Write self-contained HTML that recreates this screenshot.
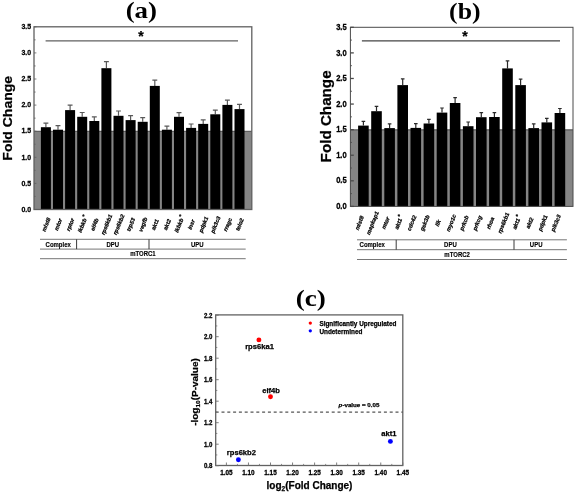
<!DOCTYPE html>
<html><head><meta charset="utf-8"><title>Figure</title>
<style>
html,body{margin:0;padding:0;background:#fff;}
svg{display:block;}
text{font-family:"Liberation Sans",sans-serif;font-weight:bold;fill:#000;stroke:#000;stroke-width:0.25px;}
.ttl{font-family:"Liberation Serif",serif;font-weight:bold;font-size:23px;stroke:none;}
.tk{font-size:7px;}
.tkc{font-size:6.1px;}
.gl{font-size:6.3px;font-style:italic;}
.tb{font-size:6px;stroke-width:0.12px;}
.pt{font-size:7.6px;}
.lg{font-size:6.4px;}
</style></head><body>
<svg width="575" height="493" viewBox="0 0 575 493">
<rect width="575" height="493" fill="#fff"/>
<rect x="34" y="131" width="217.8" height="78.5" fill="#858585"/>
<line x1="34" y1="131.3" x2="251.8" y2="131.3" stroke="#606060" stroke-width="1.3"/>
<path d="M45.9 127.2V123.1M43.45 123.1H48.35" stroke="#5a5a5a" stroke-width="1.2" fill="none"/>
<rect x="40.9" y="127.2" width="10" height="82.3" fill="#000"/>
<path d="M58 129.7V125.7M55.55 125.7H60.45" stroke="#5a5a5a" stroke-width="1.2" fill="none"/>
<rect x="53" y="129.7" width="10" height="79.8" fill="#000"/>
<path d="M70.1 110.1V105.2M67.65 105.2H72.55" stroke="#5a5a5a" stroke-width="1.2" fill="none"/>
<rect x="65.1" y="110.1" width="10" height="99.4" fill="#000"/>
<path d="M82.2 116.8V112.5M79.75 112.5H84.65" stroke="#5a5a5a" stroke-width="1.2" fill="none"/>
<rect x="77.2" y="116.8" width="10" height="92.7" fill="#000"/>
<path d="M94.3 121V116.9M91.85 116.9H96.75" stroke="#5a5a5a" stroke-width="1.2" fill="none"/>
<rect x="89.3" y="121" width="10" height="88.5" fill="#000"/>
<path d="M106.4 68.2V61.6M103.95 61.6H108.85" stroke="#5a5a5a" stroke-width="1.2" fill="none"/>
<rect x="101.4" y="68.2" width="10" height="141.3" fill="#000"/>
<path d="M118.5 115.8V111M116.05 111H120.95" stroke="#5a5a5a" stroke-width="1.2" fill="none"/>
<rect x="113.5" y="115.8" width="10" height="93.7" fill="#000"/>
<path d="M130.6 120.1V115.6M128.15 115.6H133.05" stroke="#5a5a5a" stroke-width="1.2" fill="none"/>
<rect x="125.6" y="120.1" width="10" height="89.4" fill="#000"/>
<path d="M142.7 121.8V117.7M140.25 117.7H145.15" stroke="#5a5a5a" stroke-width="1.2" fill="none"/>
<rect x="137.7" y="121.8" width="10" height="87.7" fill="#000"/>
<path d="M154.8 85.9V80.1M152.35 80.1H157.25" stroke="#5a5a5a" stroke-width="1.2" fill="none"/>
<rect x="149.8" y="85.9" width="10" height="123.6" fill="#000"/>
<path d="M166.9 129.7V126.1M164.45 126.1H169.35" stroke="#5a5a5a" stroke-width="1.2" fill="none"/>
<rect x="161.9" y="129.7" width="10" height="79.8" fill="#000"/>
<path d="M179 116.8V112.7M176.55 112.7H181.45" stroke="#5a5a5a" stroke-width="1.2" fill="none"/>
<rect x="174" y="116.8" width="10" height="92.7" fill="#000"/>
<path d="M191.1 127.9V124M188.65 124H193.55" stroke="#5a5a5a" stroke-width="1.2" fill="none"/>
<rect x="186.1" y="127.9" width="10" height="81.6" fill="#000"/>
<path d="M203.2 123.9V119.8M200.75 119.8H205.65" stroke="#5a5a5a" stroke-width="1.2" fill="none"/>
<rect x="198.2" y="123.9" width="10" height="85.6" fill="#000"/>
<path d="M215.3 114.3V110.2M212.85 110.2H217.75" stroke="#5a5a5a" stroke-width="1.2" fill="none"/>
<rect x="210.3" y="114.3" width="10" height="95.2" fill="#000"/>
<path d="M227.4 104.9V100.2M224.95 100.2H229.85" stroke="#5a5a5a" stroke-width="1.2" fill="none"/>
<rect x="222.4" y="104.9" width="10" height="104.6" fill="#000"/>
<path d="M239.5 109.1V104.4M237.05 104.4H241.95" stroke="#5a5a5a" stroke-width="1.2" fill="none"/>
<rect x="234.5" y="109.1" width="10" height="100.4" fill="#000"/>
<rect x="34" y="26.8" width="217.8" height="182.7" fill="none" stroke="#606060" stroke-width="1.3"/>
<line x1="34" y1="209.5" x2="36.4" y2="209.5" stroke="#606060" stroke-width="0.8"/>
<text transform="translate(31.2 211.76) scale(1 1.06)" font-size="7.0" text-anchor="end">0.0</text>
<line x1="34" y1="196.45" x2="35.6" y2="196.45" stroke="#606060" stroke-width="0.8"/>
<line x1="34" y1="183.4" x2="36.4" y2="183.4" stroke="#606060" stroke-width="0.8"/>
<text transform="translate(31.2 185.66) scale(1 1.06)" font-size="7.0" text-anchor="end">0.5</text>
<line x1="34" y1="170.35" x2="35.6" y2="170.35" stroke="#606060" stroke-width="0.8"/>
<line x1="34" y1="157.3" x2="36.4" y2="157.3" stroke="#606060" stroke-width="0.8"/>
<text transform="translate(31.2 159.56) scale(1 1.06)" font-size="7.0" text-anchor="end">1.0</text>
<line x1="34" y1="144.25" x2="35.6" y2="144.25" stroke="#606060" stroke-width="0.8"/>
<line x1="34" y1="131.2" x2="36.4" y2="131.2" stroke="#606060" stroke-width="0.8"/>
<text transform="translate(31.2 133.46) scale(1 1.06)" font-size="7.0" text-anchor="end">1.5</text>
<line x1="34" y1="118.15" x2="35.6" y2="118.15" stroke="#606060" stroke-width="0.8"/>
<line x1="34" y1="105.1" x2="36.4" y2="105.1" stroke="#606060" stroke-width="0.8"/>
<text transform="translate(31.2 107.36) scale(1 1.06)" font-size="7.0" text-anchor="end">2.0</text>
<line x1="34" y1="92.05" x2="35.6" y2="92.05" stroke="#606060" stroke-width="0.8"/>
<line x1="34" y1="79" x2="36.4" y2="79" stroke="#606060" stroke-width="0.8"/>
<text transform="translate(31.2 81.26) scale(1 1.06)" font-size="7.0" text-anchor="end">2.5</text>
<line x1="34" y1="65.95" x2="35.6" y2="65.95" stroke="#606060" stroke-width="0.8"/>
<line x1="34" y1="52.9" x2="36.4" y2="52.9" stroke="#606060" stroke-width="0.8"/>
<text transform="translate(31.2 55.16) scale(1 1.06)" font-size="7.0" text-anchor="end">3.0</text>
<line x1="34" y1="39.85" x2="35.6" y2="39.85" stroke="#606060" stroke-width="0.8"/>
<line x1="34" y1="26.8" x2="36.4" y2="26.8" stroke="#606060" stroke-width="0.8"/>
<text transform="translate(31.2 29.06) scale(1 1.06)" font-size="7.0" text-anchor="end">3.5</text>
<text font-size="14.0" text-anchor="middle" transform="translate(12 118.3) rotate(-90) scale(1 0.94)">Fold Change</text>
<text class="ttl" transform="translate(141.3 18) scale(1.17 1)" text-anchor="middle">(a)</text>
<line x1="45.6" y1="40.9" x2="238" y2="40.9" stroke="#606060" stroke-width="1.3"/>
<text x="140.9" y="41.2" font-size="14" text-anchor="middle">*</text>
<g transform="rotate(-68 46.2 224.6)" font-size="5.6" font-style="italic" stroke="#000" stroke-width="0.3"><text x="46.2" y="226.5" text-anchor="middle">mlst8</text></g>
<g transform="rotate(-68 58.3 224.6)" font-size="5.6" font-style="italic" stroke="#000" stroke-width="0.3"><text x="58.3" y="226.5" text-anchor="middle">mtor</text></g>
<g transform="rotate(-68 70.4 224.6)" font-size="5.6" font-style="italic" stroke="#000" stroke-width="0.3"><text x="70.4" y="226.5" text-anchor="middle">rptor</text></g>
<g transform="rotate(-68 82.5 224.6)" font-size="5.6" font-style="italic" stroke="#000" stroke-width="0.3"><text x="81.6" y="226.5" text-anchor="middle">ikbkb</text><text x="89.91" y="224.8">*</text></g>
<g transform="rotate(-68 94.6 224.6)" font-size="5.6" font-style="italic" stroke="#000" stroke-width="0.3"><text x="94.6" y="226.5" text-anchor="middle">eif4b</text></g>
<g transform="rotate(-68 106.7 224.6)" font-size="5.6" font-style="italic" stroke="#000" stroke-width="0.3"><text x="106.7" y="226.5" text-anchor="middle">rps6kb1</text></g>
<g transform="rotate(-68 118.8 224.6)" font-size="5.6" font-style="italic" stroke="#000" stroke-width="0.3"><text x="118.8" y="226.5" text-anchor="middle">rps6kb2</text></g>
<g transform="rotate(-68 130.9 224.6)" font-size="5.6" font-style="italic" stroke="#000" stroke-width="0.3"><text x="130.9" y="226.5" text-anchor="middle">trp53</text></g>
<g transform="rotate(-68 143 224.6)" font-size="5.6" font-style="italic" stroke="#000" stroke-width="0.3"><text x="143" y="226.5" text-anchor="middle">vegfb</text></g>
<g transform="rotate(-68 155.1 224.6)" font-size="5.6" font-style="italic" stroke="#000" stroke-width="0.3"><text x="155.1" y="226.5" text-anchor="middle">akt1</text></g>
<g transform="rotate(-68 167.2 224.6)" font-size="5.6" font-style="italic" stroke="#000" stroke-width="0.3"><text x="167.2" y="226.5" text-anchor="middle">akt2</text></g>
<g transform="rotate(-68 179.3 224.6)" font-size="5.6" font-style="italic" stroke="#000" stroke-width="0.3"><text x="178.4" y="226.5" text-anchor="middle">ikbkb</text><text x="186.71" y="224.8">*</text></g>
<g transform="rotate(-68 191.4 224.6)" font-size="5.6" font-style="italic" stroke="#000" stroke-width="0.3"><text x="191.4" y="226.5" text-anchor="middle">insr</text></g>
<g transform="rotate(-68 203.5 224.6)" font-size="5.6" font-style="italic" stroke="#000" stroke-width="0.3"><text x="203.5" y="226.5" text-anchor="middle">pdpk1</text></g>
<g transform="rotate(-68 215.6 224.6)" font-size="5.6" font-style="italic" stroke="#000" stroke-width="0.3"><text x="215.6" y="226.5" text-anchor="middle">pik3c3</text></g>
<g transform="rotate(-68 227.7 224.6)" font-size="5.6" font-style="italic" stroke="#000" stroke-width="0.3"><text x="227.7" y="226.5" text-anchor="middle">rragc</text></g>
<g transform="rotate(-68 239.8 224.6)" font-size="5.6" font-style="italic" stroke="#000" stroke-width="0.3"><text x="239.8" y="226.5" text-anchor="middle">telo2</text></g>
<line x1="40" y1="239.3" x2="245.7" y2="239.3" stroke="#666" stroke-width="0.9"/>
<line x1="40" y1="249.1" x2="245.7" y2="249.1" stroke="#666" stroke-width="0.9"/>
<line x1="40" y1="258.7" x2="245.7" y2="258.7" stroke="#666" stroke-width="0.9"/>
<line x1="76.6" y1="239.3" x2="76.6" y2="249.1" stroke="#3a3a3a" stroke-width="1"/>
<line x1="149" y1="239.3" x2="149" y2="249.1" stroke="#3a3a3a" stroke-width="1"/>
<text class="tb" transform="translate(58.2 246.5) scale(1 1.12)" text-anchor="middle">Complex</text>
<text class="tb" transform="translate(112.8 246.5) scale(1 1.12)" text-anchor="middle">DPU</text>
<text class="tb" transform="translate(197.3 246.5) scale(1 1.12)" text-anchor="middle">UPU</text>
<text class="tb" transform="translate(142.9 256.2) scale(1 1.12)" text-anchor="middle">mTORC1</text>
<rect x="350.4" y="129.6" width="222.6" height="76.8" fill="#858585"/>
<line x1="350.4" y1="129.9" x2="573" y2="129.9" stroke="#4a4a4a" stroke-width="1.0"/>
<path d="M363.4 125.6V121.4M361.6 121.4H365.2" stroke="#2a2a2a" stroke-width="1.2" fill="none"/>
<rect x="358.1" y="125.6" width="10.6" height="80.8" fill="#000"/>
<path d="M376.5 111.2V106.4M374.7 106.4H378.3" stroke="#2a2a2a" stroke-width="1.2" fill="none"/>
<rect x="371.2" y="111.2" width="10.6" height="95.2" fill="#000"/>
<path d="M389.6 128.1V123.9M387.8 123.9H391.4" stroke="#2a2a2a" stroke-width="1.2" fill="none"/>
<rect x="384.3" y="128.1" width="10.6" height="78.3" fill="#000"/>
<path d="M402.7 85.1V78.8M400.9 78.8H404.5" stroke="#2a2a2a" stroke-width="1.2" fill="none"/>
<rect x="397.4" y="85.1" width="10.6" height="121.3" fill="#000"/>
<path d="M415.8 127.9V123.7M414 123.7H417.6" stroke="#2a2a2a" stroke-width="1.2" fill="none"/>
<rect x="410.5" y="127.9" width="10.6" height="78.5" fill="#000"/>
<path d="M428.9 123.5V119.3M427.1 119.3H430.7" stroke="#2a2a2a" stroke-width="1.2" fill="none"/>
<rect x="423.6" y="123.5" width="10.6" height="82.9" fill="#000"/>
<path d="M442 112.6V108M440.2 108H443.8" stroke="#2a2a2a" stroke-width="1.2" fill="none"/>
<rect x="436.7" y="112.6" width="10.6" height="93.8" fill="#000"/>
<path d="M455.1 103V97.6M453.3 97.6H456.9" stroke="#2a2a2a" stroke-width="1.2" fill="none"/>
<rect x="449.8" y="103" width="10.6" height="103.4" fill="#000"/>
<path d="M468.2 126.2V122M466.4 122H470" stroke="#2a2a2a" stroke-width="1.2" fill="none"/>
<rect x="462.9" y="126.2" width="10.6" height="80.2" fill="#000"/>
<path d="M481.3 117.2V112.6M479.5 112.6H483.1" stroke="#2a2a2a" stroke-width="1.2" fill="none"/>
<rect x="476" y="117.2" width="10.6" height="89.2" fill="#000"/>
<path d="M494.4 117V112.6M492.6 112.6H496.2" stroke="#2a2a2a" stroke-width="1.2" fill="none"/>
<rect x="489.1" y="117" width="10.6" height="89.4" fill="#000"/>
<path d="M507.5 68.4V60.9M505.7 60.9H509.3" stroke="#2a2a2a" stroke-width="1.2" fill="none"/>
<rect x="502.2" y="68.4" width="10.6" height="138" fill="#000"/>
<path d="M520.6 85.1V79.2M518.8 79.2H522.4" stroke="#2a2a2a" stroke-width="1.2" fill="none"/>
<rect x="515.3" y="85.1" width="10.6" height="121.3" fill="#000"/>
<path d="M533.7 128.1V123.9M531.9 123.9H535.5" stroke="#2a2a2a" stroke-width="1.2" fill="none"/>
<rect x="528.4" y="128.1" width="10.6" height="78.3" fill="#000"/>
<path d="M546.8 122.4V118.3M545 118.3H548.6" stroke="#2a2a2a" stroke-width="1.2" fill="none"/>
<rect x="541.5" y="122.4" width="10.6" height="84" fill="#000"/>
<path d="M559.9 113V108.5M558.1 108.5H561.7" stroke="#2a2a2a" stroke-width="1.2" fill="none"/>
<rect x="554.6" y="113" width="10.6" height="93.4" fill="#000"/>
<rect x="350.4" y="27.3" width="222.6" height="179.1" fill="none" stroke="#4a4a4a" stroke-width="1.0"/>
<line x1="350.4" y1="206.4" x2="353.8" y2="206.4" stroke="#4a4a4a" stroke-width="1.3"/>
<text transform="translate(346.7 209.06) scale(1 1.18)" font-size="7.6" text-anchor="end">0.0</text>
<line x1="350.4" y1="193.61" x2="352" y2="193.61" stroke="#4a4a4a" stroke-width="0.8"/>
<line x1="350.4" y1="180.81" x2="353.8" y2="180.81" stroke="#4a4a4a" stroke-width="1.3"/>
<text transform="translate(346.7 183.47) scale(1 1.18)" font-size="7.6" text-anchor="end">0.5</text>
<line x1="350.4" y1="168.02" x2="352" y2="168.02" stroke="#4a4a4a" stroke-width="0.8"/>
<line x1="350.4" y1="155.23" x2="353.8" y2="155.23" stroke="#4a4a4a" stroke-width="1.3"/>
<text transform="translate(346.7 157.89) scale(1 1.18)" font-size="7.6" text-anchor="end">1.0</text>
<line x1="350.4" y1="142.44" x2="352" y2="142.44" stroke="#4a4a4a" stroke-width="0.8"/>
<line x1="350.4" y1="129.64" x2="353.8" y2="129.64" stroke="#4a4a4a" stroke-width="1.3"/>
<text transform="translate(346.7 132.3) scale(1 1.18)" font-size="7.6" text-anchor="end">1.5</text>
<line x1="350.4" y1="116.85" x2="352" y2="116.85" stroke="#4a4a4a" stroke-width="0.8"/>
<line x1="350.4" y1="104.06" x2="353.8" y2="104.06" stroke="#4a4a4a" stroke-width="1.3"/>
<text transform="translate(346.7 106.72) scale(1 1.18)" font-size="7.6" text-anchor="end">2.0</text>
<line x1="350.4" y1="91.26" x2="352" y2="91.26" stroke="#4a4a4a" stroke-width="0.8"/>
<line x1="350.4" y1="78.47" x2="353.8" y2="78.47" stroke="#4a4a4a" stroke-width="1.3"/>
<text transform="translate(346.7 81.13) scale(1 1.18)" font-size="7.6" text-anchor="end">2.5</text>
<line x1="350.4" y1="65.68" x2="352" y2="65.68" stroke="#4a4a4a" stroke-width="0.8"/>
<line x1="350.4" y1="52.89" x2="353.8" y2="52.89" stroke="#4a4a4a" stroke-width="1.3"/>
<text transform="translate(346.7 55.55) scale(1 1.18)" font-size="7.6" text-anchor="end">3.0</text>
<line x1="350.4" y1="40.09" x2="352" y2="40.09" stroke="#4a4a4a" stroke-width="0.8"/>
<line x1="350.4" y1="27.3" x2="353.8" y2="27.3" stroke="#4a4a4a" stroke-width="1.3"/>
<text transform="translate(346.7 29.96) scale(1 1.18)" font-size="7.6" text-anchor="end">3.5</text>
<text font-size="15.2" text-anchor="middle" transform="translate(331.2 116.4) rotate(-90) scale(1 1)">Fold Change</text>
<text class="ttl" transform="translate(464.8 18.5) scale(1.12 1)" text-anchor="middle">(b)</text>
<line x1="361.9" y1="40.8" x2="560" y2="40.8" stroke="#444" stroke-width="1.2"/>
<text x="464.9" y="41.2" font-size="14" text-anchor="middle">*</text>
<g transform="rotate(-68 359.4 223)" font-size="5.7" font-style="italic" stroke="#000" stroke-width="0.3"><text x="359.4" y="224.94" text-anchor="middle">mlst8</text></g>
<g transform="rotate(-68 372.5 223)" font-size="5.7" font-style="italic" stroke="#000" stroke-width="0.3"><text x="372.5" y="224.94" text-anchor="middle">mapkap1</text></g>
<g transform="rotate(-68 385.6 223)" font-size="5.7" font-style="italic" stroke="#000" stroke-width="0.3"><text x="385.6" y="224.94" text-anchor="middle">mtor</text></g>
<g transform="rotate(-68 398.7 223)" font-size="5.7" font-style="italic" stroke="#000" stroke-width="0.3"><text x="397.8" y="224.94" text-anchor="middle">akt1</text><text x="404.5" y="223.24">*</text></g>
<g transform="rotate(-68 411.8 223)" font-size="5.7" font-style="italic" stroke="#000" stroke-width="0.3"><text x="411.8" y="224.94" text-anchor="middle">cdc42</text></g>
<g transform="rotate(-68 424.9 223)" font-size="5.7" font-style="italic" stroke="#000" stroke-width="0.3"><text x="424.9" y="224.94" text-anchor="middle">gsk3b</text></g>
<g transform="rotate(-68 438 223)" font-size="5.7" font-style="italic" stroke="#000" stroke-width="0.3"><text x="438" y="224.94" text-anchor="middle">ilk</text></g>
<g transform="rotate(-68 451.1 223)" font-size="5.7" font-style="italic" stroke="#000" stroke-width="0.3"><text x="451.1" y="224.94" text-anchor="middle">myo1c</text></g>
<g transform="rotate(-68 464.2 223)" font-size="5.7" font-style="italic" stroke="#000" stroke-width="0.3"><text x="464.2" y="224.94" text-anchor="middle">prkcb</text></g>
<g transform="rotate(-68 477.3 223)" font-size="5.7" font-style="italic" stroke="#000" stroke-width="0.3"><text x="477.3" y="224.94" text-anchor="middle">prkcg</text></g>
<g transform="rotate(-68 490.4 223)" font-size="5.7" font-style="italic" stroke="#000" stroke-width="0.3"><text x="490.4" y="224.94" text-anchor="middle">rhoa</text></g>
<g transform="rotate(-68 503.5 223)" font-size="5.7" font-style="italic" stroke="#000" stroke-width="0.3"><text x="503.5" y="224.94" text-anchor="middle">rps6kb1</text></g>
<g transform="rotate(-68 516.6 223)" font-size="5.7" font-style="italic" stroke="#000" stroke-width="0.3"><text x="515.7" y="224.94" text-anchor="middle">akt1</text><text x="522.4" y="223.24">*</text></g>
<g transform="rotate(-68 529.7 223)" font-size="5.7" font-style="italic" stroke="#000" stroke-width="0.3"><text x="529.7" y="224.94" text-anchor="middle">akt2</text></g>
<g transform="rotate(-68 542.8 223)" font-size="5.7" font-style="italic" stroke="#000" stroke-width="0.3"><text x="542.8" y="224.94" text-anchor="middle">pdpk1</text></g>
<g transform="rotate(-68 555.9 223)" font-size="5.7" font-style="italic" stroke="#000" stroke-width="0.3"><text x="555.9" y="224.94" text-anchor="middle">pik3c3</text></g>
<line x1="357" y1="239.8" x2="566.9" y2="239.8" stroke="#666" stroke-width="0.9"/>
<line x1="357" y1="249.7" x2="566.9" y2="249.7" stroke="#666" stroke-width="0.9"/>
<line x1="357" y1="259.5" x2="566.9" y2="259.5" stroke="#666" stroke-width="0.9"/>
<line x1="396.2" y1="239.8" x2="396.2" y2="249.7" stroke="#3a3a3a" stroke-width="1"/>
<line x1="514" y1="239.8" x2="514" y2="249.7" stroke="#3a3a3a" stroke-width="1"/>
<text class="tb" transform="translate(372.2 247.05) scale(1 1.12)" text-anchor="middle">Complex</text>
<text class="tb" transform="translate(450.4 247.05) scale(1 1.12)" text-anchor="middle">DPU</text>
<text class="tb" transform="translate(536.2 247.05) scale(1 1.12)" text-anchor="middle">UPU</text>
<text class="tb" transform="translate(457.1 256.9) scale(1 1.12)" text-anchor="middle">mTORC2</text>
<text class="ttl" transform="translate(310.7 306.1) scale(1.18 1)" text-anchor="middle">(c)</text>
<rect x="215.7" y="314.9" width="187.1" height="150.6" fill="none" stroke="#626262" stroke-width="1.3"/>
<line x1="215.7" y1="412.1" x2="402.8" y2="412.1" stroke="#555" stroke-width="1.4" stroke-dasharray="3 2.8"/>
<line x1="215.7" y1="465.7" x2="218.7" y2="465.7" stroke="#707070" stroke-width="0.9"/>
<text class="tkc" transform="translate(212.4 468.25) scale(1 1.22)" text-anchor="end">0.8</text>
<line x1="215.7" y1="454.95" x2="217.3" y2="454.95" stroke="#707070" stroke-width="0.8"/>
<line x1="215.7" y1="444.2" x2="218.7" y2="444.2" stroke="#707070" stroke-width="0.9"/>
<text class="tkc" transform="translate(212.4 446.75) scale(1 1.22)" text-anchor="end">1.0</text>
<line x1="215.7" y1="433.45" x2="217.3" y2="433.45" stroke="#707070" stroke-width="0.8"/>
<line x1="215.7" y1="422.7" x2="218.7" y2="422.7" stroke="#707070" stroke-width="0.9"/>
<text class="tkc" transform="translate(212.4 425.25) scale(1 1.22)" text-anchor="end">1.2</text>
<line x1="215.7" y1="411.95" x2="217.3" y2="411.95" stroke="#707070" stroke-width="0.8"/>
<line x1="215.7" y1="401.2" x2="218.7" y2="401.2" stroke="#707070" stroke-width="0.9"/>
<text class="tkc" transform="translate(212.4 403.75) scale(1 1.22)" text-anchor="end">1.4</text>
<line x1="215.7" y1="390.45" x2="217.3" y2="390.45" stroke="#707070" stroke-width="0.8"/>
<line x1="215.7" y1="379.7" x2="218.7" y2="379.7" stroke="#707070" stroke-width="0.9"/>
<text class="tkc" transform="translate(212.4 382.25) scale(1 1.22)" text-anchor="end">1.6</text>
<line x1="215.7" y1="368.95" x2="217.3" y2="368.95" stroke="#707070" stroke-width="0.8"/>
<line x1="215.7" y1="358.2" x2="218.7" y2="358.2" stroke="#707070" stroke-width="0.9"/>
<text class="tkc" transform="translate(212.4 360.75) scale(1 1.22)" text-anchor="end">1.8</text>
<line x1="215.7" y1="347.45" x2="217.3" y2="347.45" stroke="#707070" stroke-width="0.8"/>
<line x1="215.7" y1="336.7" x2="218.7" y2="336.7" stroke="#707070" stroke-width="0.9"/>
<text class="tkc" transform="translate(212.4 339.25) scale(1 1.22)" text-anchor="end">2.0</text>
<line x1="215.7" y1="325.95" x2="217.3" y2="325.95" stroke="#707070" stroke-width="0.8"/>
<line x1="215.7" y1="315.2" x2="218.7" y2="315.2" stroke="#707070" stroke-width="0.9"/>
<text class="tkc" transform="translate(212.4 317.75) scale(1 1.22)" text-anchor="end">2.2</text>
<line x1="226.4" y1="465.5" x2="226.4" y2="462.5" stroke="#707070" stroke-width="0.9"/>
<text class="tkc" style="font-size:6.4px" transform="translate(226.4 474.9) scale(1 1.18)" text-anchor="middle">1.05</text>
<line x1="248.45" y1="465.5" x2="248.45" y2="462.5" stroke="#707070" stroke-width="0.9"/>
<text class="tkc" style="font-size:6.4px" transform="translate(248.45 474.9) scale(1 1.18)" text-anchor="middle">1.10</text>
<line x1="237.43" y1="465.5" x2="237.43" y2="463.9" stroke="#707070" stroke-width="0.8"/>
<line x1="270.5" y1="465.5" x2="270.5" y2="462.5" stroke="#707070" stroke-width="0.9"/>
<text class="tkc" style="font-size:6.4px" transform="translate(270.5 474.9) scale(1 1.18)" text-anchor="middle">1.15</text>
<line x1="259.48" y1="465.5" x2="259.48" y2="463.9" stroke="#707070" stroke-width="0.8"/>
<line x1="292.55" y1="465.5" x2="292.55" y2="462.5" stroke="#707070" stroke-width="0.9"/>
<text class="tkc" style="font-size:6.4px" transform="translate(292.55 474.9) scale(1 1.18)" text-anchor="middle">1.20</text>
<line x1="281.53" y1="465.5" x2="281.53" y2="463.9" stroke="#707070" stroke-width="0.8"/>
<line x1="314.6" y1="465.5" x2="314.6" y2="462.5" stroke="#707070" stroke-width="0.9"/>
<text class="tkc" style="font-size:6.4px" transform="translate(314.6 474.9) scale(1 1.18)" text-anchor="middle">1.25</text>
<line x1="303.58" y1="465.5" x2="303.58" y2="463.9" stroke="#707070" stroke-width="0.8"/>
<line x1="336.65" y1="465.5" x2="336.65" y2="462.5" stroke="#707070" stroke-width="0.9"/>
<text class="tkc" style="font-size:6.4px" transform="translate(336.65 474.9) scale(1 1.18)" text-anchor="middle">1.30</text>
<line x1="325.63" y1="465.5" x2="325.63" y2="463.9" stroke="#707070" stroke-width="0.8"/>
<line x1="358.7" y1="465.5" x2="358.7" y2="462.5" stroke="#707070" stroke-width="0.9"/>
<text class="tkc" style="font-size:6.4px" transform="translate(358.7 474.9) scale(1 1.18)" text-anchor="middle">1.35</text>
<line x1="347.68" y1="465.5" x2="347.68" y2="463.9" stroke="#707070" stroke-width="0.8"/>
<line x1="380.75" y1="465.5" x2="380.75" y2="462.5" stroke="#707070" stroke-width="0.9"/>
<text class="tkc" style="font-size:6.4px" transform="translate(380.75 474.9) scale(1 1.18)" text-anchor="middle">1.40</text>
<line x1="369.73" y1="465.5" x2="369.73" y2="463.9" stroke="#707070" stroke-width="0.8"/>
<line x1="402.8" y1="465.5" x2="402.8" y2="462.5" stroke="#707070" stroke-width="0.9"/>
<text class="tkc" style="font-size:6.4px" transform="translate(402.8 474.9) scale(1 1.18)" text-anchor="middle">1.45</text>
<line x1="391.78" y1="465.5" x2="391.78" y2="463.9" stroke="#707070" stroke-width="0.8"/>
<circle cx="258.9" cy="339.9" r="2.45" fill="#f00"/>
<text class="pt" x="259.5" y="349.3" text-anchor="middle">rps6ka1</text>
<circle cx="270.5" cy="396.7" r="2.45" fill="#f00"/>
<text class="pt" x="271.1" y="392.8" text-anchor="middle">eif4b</text>
<circle cx="238.4" cy="459.8" r="2.45" fill="#00f"/>
<text class="pt" x="241.4" y="454.6" text-anchor="middle">rps6kb2</text>
<circle cx="390.4" cy="441.4" r="2.45" fill="#00f"/>
<text class="pt" x="388.9" y="435.9" text-anchor="middle">akt1</text>
<circle cx="310.3" cy="323.1" r="1.65" fill="#f00"/>
<circle cx="310.3" cy="330.8" r="1.65" fill="#00f"/>
<text class="lg" x="319.4" y="325.6">Significantly Upregulated</text>
<text class="lg" x="319.4" y="333.7">Undetermined</text>
<text x="338.6" y="407.4" font-size="6.2"><tspan font-style="italic">p</tspan>-value = 0.05</text>
<text x="309.5" y="488.8" font-size="10" text-anchor="middle">log<tspan font-size="6.5" dy="2">2</tspan><tspan dy="-2">(Fold Change)</tspan></text>
<text font-size="10" text-anchor="middle" transform="translate(198.2 392) rotate(-90) scale(1 0.88)">-log<tspan font-size="6.5" dy="2">10</tspan><tspan dy="-2">(P-value)</tspan></text>
</svg>
</body></html>
